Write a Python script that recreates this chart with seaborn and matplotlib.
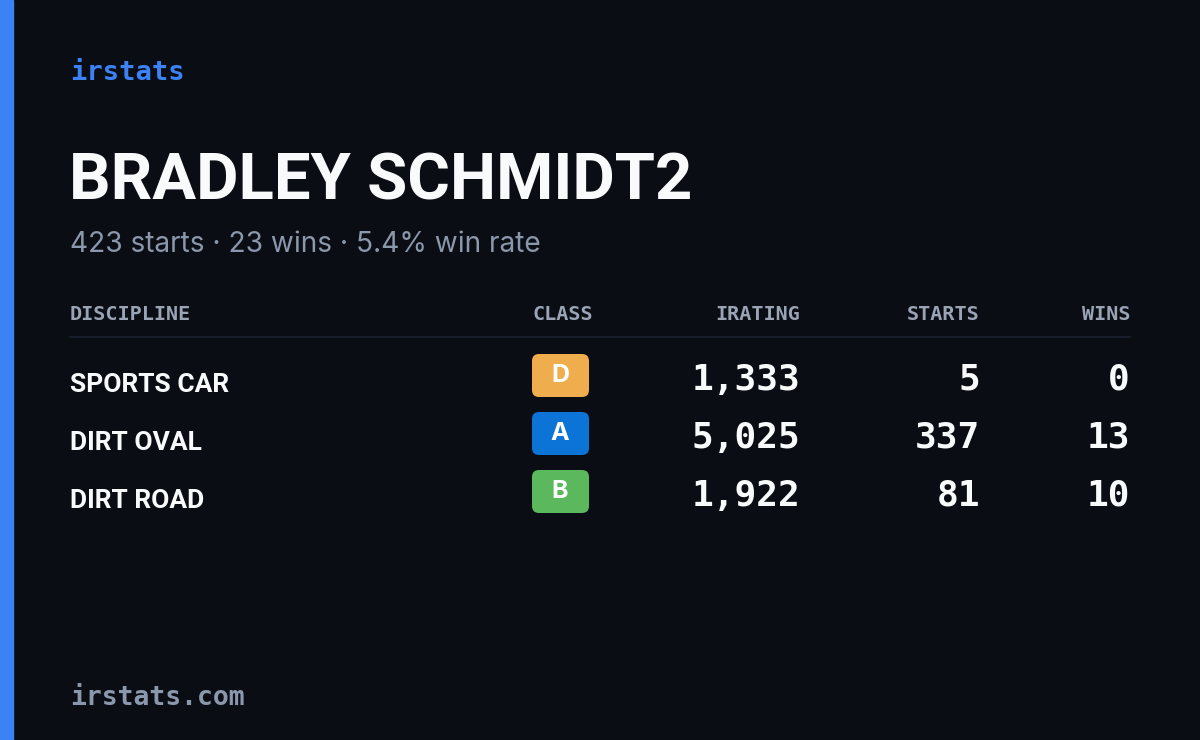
import matplotlib
matplotlib.use("Agg")
import matplotlib.pyplot as plt
from matplotlib.patches import FancyBboxPatch, Rectangle
import seaborn as sns

sns.set_theme(style="dark")

name = "BRADLEY SCHMIDT2"
subtitle = "423 starts · 23 wins · 5.4% win rate"
headers = ["DISCIPLINE", "CLASS", "IRATING", "STARTS", "WINS"]
disciplines = ["SPORTS CAR", "DIRT OVAL", "DIRT ROAD"]
classes = ["D", "A", "B"]
iratings = [1333, 5025, 1922]
starts = [5, 337, 81]
wins = [0, 13, 10]
class_colors = {"D": "#f0ad4e", "A": "#0b74d6", "B": "#5cb85c"}

BG = "#0a0d14"
fig = plt.figure(figsize=(12, 7.4), dpi=100, facecolor=BG)
ax = fig.add_axes([0, 0, 1, 1])
ax.set_xlim(0, 1200); ax.set_ylim(740, 0)
ax.set_facecolor(BG); ax.axis("off")

ax.add_patch(Rectangle((0, 0), 13, 740, color="#3b82f6"))
mono = "DejaVu Sans Mono"
cond = ["Roboto", "DejaVu Sans"]

ax.text(70, 73, "irstats", color="#3b82f6", fontsize=19.5, family=mono, weight="bold", va="center")
ax.text(69, 182, name, color="#f8fafc", fontsize=47, family=cond, weight="bold", va="center")
ax.text(70, 245, subtitle, color="#8b97ab", fontsize=20.2, family="Inter", va="center")

hx = [70, 593, 800, 980, 1130]
ha = ["left", "right", "right", "right", "right"]
for x, h, a in zip(hx, headers, ha):
    ax.text(x, 314, h, color="#9aa4b5", fontsize=14.5, family=mono, weight="bold", ha=a, va="center")
ax.plot([70, 1130], [337, 337], color="#1c2230", lw=1.2)

for i, (d, c, r, s, w) in enumerate(zip(disciplines, classes, iratings, starts, wins)):
    y = 380 + 58 * i
    ax.text(70, y + 5, d, color="#f8fafc", fontsize=19, family=cond, weight="bold", va="center")
    ax.add_patch(FancyBboxPatch((532, y - 26), 57, 43, boxstyle="round,pad=0,rounding_size=7",
                                color=class_colors[c], lw=0))
    ax.text(560, y - 4, c, color="white", fontsize=18, family="Inter", weight="bold", ha="center", va="center")
    ax.text(800, y, f"{r:,}", color="#f8fafc", fontsize=26, family=mono, weight="bold", ha="right", va="center")
    ax.text(980, y, f"{s}", color="#f8fafc", fontsize=26, family=mono, weight="bold", ha="right", va="center")
    ax.text(1130, y, f"{w}", color="#f8fafc", fontsize=26, family=mono, weight="bold", ha="right", va="center")

ax.text(70, 698, "irstats.com", color="#8b97ab", fontsize=19, family=mono, weight="bold", va="center")

fig.savefig("out.png", dpi=100, facecolor=BG)
